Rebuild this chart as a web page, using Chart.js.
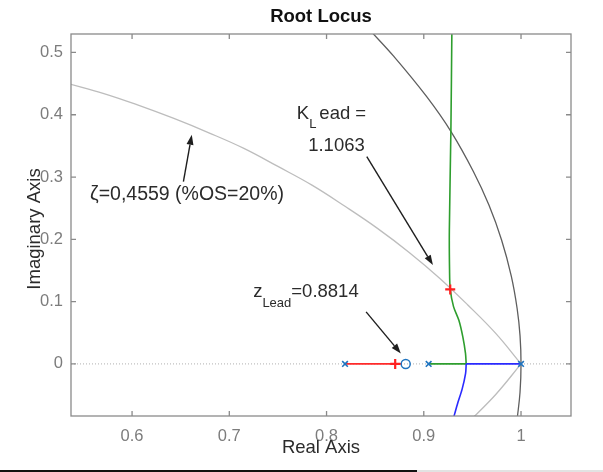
<!DOCTYPE html>
<html lang="en">
<head>
  <meta charset="UTF-8">
  <title>Root Locus</title>
  <script src="https://cdn.jsdelivr.net/npm/chart.js"></script>
  <style>
    body {
      margin: 0;
      background: #fff;
      width: 603px;
      height: 472px;
      overflow: hidden;
      position: relative;
    }
    #rl { display: block; }
    .edge-dark {
      position: absolute; left: 0; top: 470px; width: 417px; height: 2px; background: #111;
    }
    .edge-light {
      position: absolute; left: 417px; top: 470px; width: 186px; height: 2px; background: #e2e2e2;
    }
  </style>
</head>
<body>
<canvas id="rl" width="603" height="472"></canvas>
<div class="edge-dark"></div>
<div class="edge-light"></div>

<script>
// axis ranges and ticks
const xRange = [0.5372, 1.0514];
const yRange = [-0.0836, 0.5296];
const xTicks = [0.6, 0.7, 0.8, 0.9, 1];
const xTickLabels = ['0.6', '0.7', '0.8', '0.9', '1'];
const yTicks = [0, 0.1, 0.2, 0.3, 0.4, 0.5];
const yTickLabels = ['0', '0.1', '0.2', '0.3', '0.4', '0.5'];

// curves, [real, imag]
const realAxisLine = [[0.5372, 0], [1.0514, 0]];
const unitCircle = [[0.845, 0.535], [0.869, 0.494], [0.903, 0.429], [0.928, 0.373], [0.951, 0.309],
  [0.967, 0.255], [0.980, 0.199], [0.990, 0.141], [0.996, 0.089], [0.999, 0.045], [1.000, 0],
  [0.999, -0.045], [0.996, -0.089]];
const zetaUpper = [[0.534, 0.450], [0.571, 0.434], [0.607, 0.415], [0.643, 0.394], [0.679, 0.371],
  [0.715, 0.346], [0.750, 0.317], [0.785, 0.287], [0.819, 0.253], [0.852, 0.218], [0.885, 0.179],
  [0.916, 0.138], [0.945, 0.095], [0.974, 0.049], [1.000, 0]];
const zetaLower = [[1.000, 0], [0.974, -0.049], [0.945, -0.095]];
const redBranch = [[0.819, 0], [0.877, 0]];
const greenReal = [[0.905, 0], [0.9436, 0]];
const greenUpper = [[0.9436, 0], [0.9429, 0.017], [0.9402, 0.043], [0.9361, 0.070], [0.9306, 0.092],
  [0.9272, 0.120], [0.9265, 0.151], [0.9263, 0.215], [0.9279, 0.376], [0.9289, 0.537]];
const blueReal = [[0.9436, 0], [1.0, 0]];
const blueLower = [[0.9436, 0], [0.943, -0.015], [0.9395, -0.040], [0.9345, -0.065], [0.930, -0.090]];

// poles, zero and selected gain points
const poles = [[0.819, 0], [0.905, 0], [1.0, 0]];
const zeros = [[0.8814, 0]];
const gainMarks = [[0.8706, 0], [0.9272, 0.1196]];

const pts = a => a.map(p => ({ x: p[0], y: p[1] }));

// annotation arrows: [tailX, tailY, tipX, tipY] in data units
const arrows = [
  [0.6528, 0.2926, 0.6614, 0.3677],
  [0.8414, 0.3328, 0.9094, 0.1587],
  [0.8407, 0.0836, 0.8764, 0.0167]
];

const MARKER = '#1f74c0';
const TXT = '#2b2b2b';
const FONT = '"Liberation Sans", Arial, sans-serif';

function line(data, color, width, tension, extra) {
  return Object.assign({
    data: pts(data), showLine: true, borderColor: color, borderWidth: width,
    pointRadius: 0, tension: tension, fill: false
  }, extra || {});
}

const decor = {
  id: 'decor',
  afterDraw(chart) {
    const ctx = chart.ctx;
    const a = chart.chartArea;
    const xs = chart.scales.x, ys = chart.scales.y;
    ctx.save();

    // box + inner ticks
    ctx.strokeStyle = '#8a8a8a';
    ctx.lineWidth = 1.3;
    ctx.strokeRect(a.left, a.top, a.right - a.left, a.bottom - a.top);
    ctx.beginPath();
    xTicks.forEach(v => {
      const px = xs.getPixelForValue(v);
      ctx.moveTo(px, a.bottom); ctx.lineTo(px, a.bottom - 5);
      ctx.moveTo(px, a.top); ctx.lineTo(px, a.top + 5);
    });
    yTicks.forEach(v => {
      const py = ys.getPixelForValue(v);
      ctx.moveTo(a.left, py); ctx.lineTo(a.left + 5, py);
      ctx.moveTo(a.right, py); ctx.lineTo(a.right - 5, py);
    });
    ctx.stroke();

    // title and axis labels
    const cx = (a.left + a.right) / 2;
    ctx.fillStyle = '#111';
    ctx.textAlign = 'center';
    ctx.textBaseline = 'middle';
    ctx.font = 'bold 18.5px ' + FONT;
    ctx.fillText('Root Locus', cx, 17);
    ctx.fillStyle = TXT;
    ctx.font = '18.5px ' + FONT;
    ctx.fillText('Real Axis', cx, 448);
    ctx.save();
    ctx.translate(35, 229);
    ctx.rotate(-Math.PI / 2);
    ctx.fillText('Imaginary Axis', 0, 0);
    ctx.restore();

    // annotation texts
    ctx.textAlign = 'left';
    ctx.textBaseline = 'alphabetic';
    const X = v => xs.getPixelForValue(v), Y = v => ys.getPixelForValue(v);
    const big = '18.5px ' + FONT, small = '13px ' + FONT;

    ctx.font = '19.5px ' + FONT;
    ctx.fillText('\u03B6=0,4559 (%OS=20%)', X(0.5568), Y(0.2632));

    ctx.font = big;
    let x0 = X(0.7694), b0 = Y(0.3929);
    ctx.fillText('K', x0, b0);
    x0 += ctx.measureText('K').width;
    ctx.font = small;
    ctx.fillText('L', x0, b0 + 9);
    x0 += ctx.measureText('L').width + 3;
    ctx.font = big;
    ctx.fillText('ead =', x0, b0);
    ctx.fillText('1.1063', X(0.7811), Y(0.342));

    x0 = X(0.7245); b0 = Y(0.1077);
    ctx.fillText('z', x0, b0);
    x0 += ctx.measureText('z').width;
    ctx.font = small;
    ctx.fillText('Lead', x0, b0 + 10);
    x0 += ctx.measureText('Lead').width;
    ctx.font = big;
    ctx.fillText('=0.8814', x0, b0);

    // arrows
    ctx.strokeStyle = '#1e1e1e';
    ctx.fillStyle = '#1e1e1e';
    ctx.lineWidth = 1.4;
    arrows.forEach(r => {
      const x1 = X(r[0]), y1 = Y(r[1]), x2 = X(r[2]), y2 = Y(r[3]);
      const ang = Math.atan2(y2 - y1, x2 - x1);
      const hl = 10, hw = 3.5;
      const bx = x2 - hl * Math.cos(ang), by = y2 - hl * Math.sin(ang);
      ctx.beginPath();
      ctx.moveTo(x1, y1); ctx.lineTo(bx, by);
      ctx.stroke();
      ctx.beginPath();
      ctx.moveTo(x2, y2);
      ctx.lineTo(bx + hw * Math.sin(ang), by - hw * Math.cos(ang));
      ctx.lineTo(bx - hw * Math.sin(ang), by + hw * Math.cos(ang));
      ctx.closePath();
      ctx.fill();
    });
    ctx.restore();
  }
};

new Chart(document.getElementById('rl'), {
  type: 'scatter',
  data: {
    datasets: [
      { data: pts(gainMarks), pointStyle: 'cross', pointRadius: 5, borderColor: '#ff2020', borderWidth: 2.2, backgroundColor: '#ff2020' },
      { data: pts(zeros), pointStyle: 'circle', pointRadius: 4.5, borderColor: MARKER, borderWidth: 1.5, backgroundColor: 'rgba(0,0,0,0)' },
      { data: pts(poles), pointStyle: 'crossRot', pointRadius: 4, borderColor: MARKER, borderWidth: 1.6 },
      line(redBranch, '#ff2a2a', 1.6, 0),
      line(blueReal, '#2a2aff', 1.6, 0),
      line(blueLower, '#2a2aff', 1.6, 0.3),
      line(greenReal, '#2e9e2e', 1.6, 0),
      line(greenUpper, '#2e9e2e', 1.6, 0.3),
      line(unitCircle, '#5e5e5e', 1.3, 0.4),
      line(zetaUpper, '#bdbdbd', 1.3, 0.4),
      line(zetaLower, '#bdbdbd', 1.3, 0.4),
      line(realAxisLine, '#b0b0b0', 1, 0, { borderDash: [1, 2] })
    ]
  },
  options: {
    responsive: false,
    animation: false,
    devicePixelRatio: 1,
    layout: { padding: { top: 34, right: 32, left: 0, bottom: 0 } },
    plugins: { legend: { display: false }, tooltip: { enabled: false }, title: { display: false } },
    scales: {
      x: {
        type: 'linear', min: xRange[0], max: xRange[1],
        grid: { display: false, drawTicks: false },
        border: { display: false },
        afterFit: s => { s.height = 56; },
        afterBuildTicks: s => { s.ticks = xTicks.map(v => ({ value: v })); },
        ticks: {
          padding: 11, color: '#7c7c7c', font: { size: 16.5, family: FONT },
          callback: (v) => xTickLabels[xTicks.indexOf(v)]
        }
      },
      y: {
        type: 'linear', min: yRange[0], max: yRange[1],
        grid: { display: false, drawTicks: false },
        border: { display: false },
        afterFit: s => { s.width = 71; },
        afterBuildTicks: s => { s.ticks = yTicks.map(v => ({ value: v })); },
        ticks: {
          padding: 8, color: '#7c7c7c', font: { size: 16.5, family: FONT },
          callback: (v) => yTickLabels[yTicks.indexOf(v)]
        }
      }
    }
  },
  plugins: [decor]
});
</script>
</body>
</html>
